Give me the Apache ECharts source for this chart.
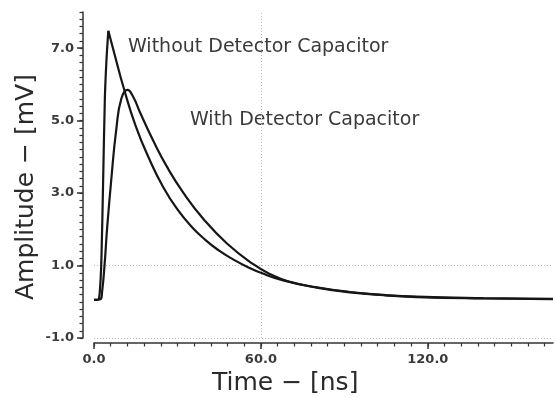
<!DOCTYPE html>
<html>
<head>
<meta charset="utf-8">
<title>Amplitude vs Time</title>
<script src="https://cdn.jsdelivr.net/npm/echarts/dist/echarts.min.js"></script>
<style>
  html, body { margin: 0; padding: 0; background: #fff; }
  #chart { width: 555px; height: 398px; }
</style>
</head>
<body>
<div id="chart"></div>
<script>
// values: time [ns] and amplitude [mV]
var withoutTime = [0, 1.5, 2.05, 2.63, 3.3, 3.9, 4.5, 5.15, 7.5, 10.5, 15, 20, 25, 30, 35, 40, 45, 50, 55, 60, 68, 80, 92, 104, 116, 140, 165];
var withoutAmp  = [0.05, 0.06, 0.25, 1.08, 3.4, 5.6, 6.7, 7.48, 6.8, 5.95, 4.85, 3.92, 3.15, 2.55, 2.08, 1.71, 1.41, 1.17, 0.97, 0.8, 0.59, 0.39, 0.26, 0.18, 0.13, 0.09, 0.07];
var withoutPeak = 7; // index of the sharp peak

var withTime = [0, 2.3, 2.88, 3.86, 4.68, 6.23, 8.04, 9.84, 12.0, 14.2, 16.6, 21.4, 26.2, 32.2, 39.4, 47.8, 57.4, 63.4, 70, 80, 92, 104, 116, 140, 165];
var withAmp  = [0.05, 0.07, 0.25, 1.08, 2.0, 3.39, 4.78, 5.61, 5.85, 5.64, 5.22, 4.43, 3.73, 3.0, 2.28, 1.61, 1.03, 0.76, 0.56, 0.4, 0.27, 0.19, 0.14, 0.1, 0.08];

var yTicks = [-1, 1, 3, 5, 7];
var xTicks = [0, 60, 120];
var yGrid = [1, -1];
var xGrid = [60];

var yMinor = [];
for (var i = -5; i <= 40; i++) yMinor.push(i / 5);
var xMinor = [];
for (var j = 0; j <= 162; j += 6) xMinor.push(j);

function pairs(t, v) {
  return t.map(function (x, k) { return [x, v[k]]; });
}

var axisColor = '#333';
var lineColor = '#161616';
var tickFont = { color: '#3a3a3a', fontFamily: 'DejaVu Sans', fontWeight: 'bold', fontSize: 13 };

var chart = echarts.init(document.getElementById('chart'), null, { renderer: 'canvas' });

var gridLines = yGrid.map(function (y) { return { yAxis: y }; })
  .concat(xGrid.map(function (x) { return { xAxis: x }; }));

var withoutPts = pairs(withoutTime, withoutAmp);

var option = {
  animation: false,
  backgroundColor: '#fff',
  grid: { left: 94, right: 2, top: 12, bottom: 60 },
  xAxis: [
    {
      type: 'value', min: 0, max: 165, offset: 5, position: 'bottom',
      axisLine: { show: true, onZero: false, lineStyle: { color: axisColor, width: 1.5 } },
      axisTick: { show: true, customValues: xTicks, length: 6, lineStyle: { color: axisColor, width: 1.5 } },
      axisLabel: Object.assign({ customValues: xTicks, margin: 10, formatter: function (v) { return v.toFixed(1); } }, tickFont),
      splitLine: { show: false }
    },
    {
      type: 'value', min: 0, max: 165, offset: 5, position: 'bottom',
      axisLine: { show: false, onZero: false },
      axisTick: { show: true, customValues: xMinor, length: 3.5, lineStyle: { color: axisColor, width: 1.2 } },
      axisLabel: { show: false },
      splitLine: { show: false }
    }
  ],
  yAxis: [
    {
      type: 'value', min: -1, max: 8, offset: 11, position: 'left',
      axisLine: { show: true, onZero: false, lineStyle: { color: axisColor, width: 1.5 } },
      axisTick: { show: true, customValues: yTicks, length: 6, lineStyle: { color: axisColor, width: 1.5 } },
      axisLabel: Object.assign({ customValues: yTicks, margin: 9, formatter: function (v) { return v.toFixed(1); } }, tickFont),
      splitLine: { show: false }
    },
    {
      type: 'value', min: -1, max: 8, offset: 11, position: 'left',
      axisLine: { show: false, onZero: false },
      axisTick: { show: true, customValues: yMinor, length: 3.5, lineStyle: { color: axisColor, width: 1.2 } },
      axisLabel: { show: false },
      splitLine: { show: false }
    }
  ],
  series: [
    {
      name: 'Without Detector Capacitor',
      type: 'line',
      data: withoutPts.slice(0, withoutPeak + 1),
      showSymbol: false,
      smooth: 0.3,
      lineStyle: { color: lineColor, width: 2.2 },
      z: 3,
      markLine: {
        silent: true,
        symbol: 'none',
        label: { show: false },
        lineStyle: { color: '#bdbdbd', type: [1, 2], width: 1 },
        data: gridLines,
        z: 1
      }
    },
    {
      name: 'Without Detector Capacitor (decay)',
      type: 'line',
      data: withoutPts.slice(withoutPeak),
      showSymbol: false,
      smooth: 0.5,
      lineStyle: { color: lineColor, width: 2.2 },
      z: 3
    },
    {
      name: 'With Detector Capacitor',
      type: 'line',
      data: pairs(withTime, withAmp),
      showSymbol: false,
      smooth: 0.5,
      lineStyle: { color: lineColor, width: 2.2 },
      z: 3
    }
  ],
  graphic: [
    {
      type: 'text', left: 128, top: 38,
      style: { text: 'Without Detector Capacitor', font: '19px "DejaVu Sans"', fill: '#3a3a3a' }
    },
    {
      type: 'text', left: 190, top: 111,
      style: { text: 'With Detector Capacitor', font: '19px "DejaVu Sans"', fill: '#3a3a3a' }
    },
    {
      type: 'text', left: 212, top: 371,
      style: { text: 'Time \u2212 [ns]', font: '25px "DejaVu Sans"', fill: '#2a2a2a' }
    },
    {
      type: 'text', x: 14, y: 300, rotation: Math.PI / 2,
      style: { text: 'Amplitude \u2212 [mV]', font: '25px "DejaVu Sans"', fill: '#2a2a2a' }
    }
  ]
};

chart.setOption(option);
</script>
</body>
</html>
